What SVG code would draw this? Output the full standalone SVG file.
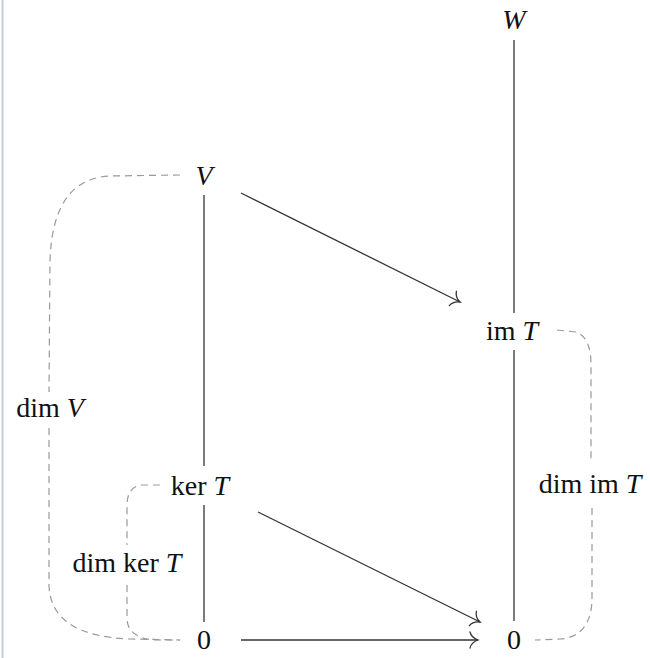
<svg xmlns="http://www.w3.org/2000/svg" width="650" height="658" viewBox="0 0 650 658">
<style>
.t{font-family:'Liberation Serif','Times New Roman',serif;font-size:28px;fill:#111;text-anchor:middle}
.i{font-style:italic}
.ln{stroke:#333;stroke-width:1.3;fill:none}
.ds{stroke:#999;stroke-width:1.2;fill:none;stroke-dasharray:7 5}
</style>
<defs>
<marker id="to" markerUnits="userSpaceOnUse" markerWidth="20" markerHeight="20" viewBox="-12 -10 14 20" refX="0" refY="0" orient="auto">
<path d="M -8 -8 C -7 -4 -3 -1 0 0 C -3 1 -7 4 -8 8" fill="none" stroke="#333" stroke-width="1.3" stroke-linecap="round"/>
</marker>
</defs>
<rect x="0" y="0" width="650" height="658" fill="#fff"/>
<line x1="2.5" y1="0" x2="2.5" y2="658" stroke="#c5cdd8" stroke-width="2"/>
<g id="connectors">
<line class="ln" x1="514" y1="40" x2="514" y2="313"/>
<line class="ln" x1="514" y1="350" x2="514" y2="621"/>
<line class="ln" x1="204" y1="195" x2="204" y2="466"/>
<line class="ln" x1="204" y1="505" x2="204" y2="622"/>
<line class="ln" x1="241" y1="193" x2="460" y2="302" marker-end="url(#to)"/>
<line class="ln" x1="258" y1="512" x2="480" y2="622" marker-end="url(#to)"/>
<line class="ln" x1="241" y1="640" x2="478" y2="640" marker-end="url(#to)"/>
<path class="ds" d="M 180 175 L 110 176 C 72 178 52 205 50 260 L 49 392"/>
<path class="ds" d="M 49 428 L 49 585 C 50 620 78 637 130 639 L 180 640"/>
<path class="ds" d="M 160 485 L 142 485 C 131 486 127 494 127 506 L 127 545"/>
<path class="ds" d="M 127 585 L 127 618 C 127 632 138 639 155 640 L 180 640"/>
<path class="ds" d="M 557 330 L 576 332 C 587 336 591 348 591 365 L 591 462"/>
<path class="ds" d="M 592 508 L 592 598 C 592 624 580 638 560 639 L 535 640"/>
</g>
<g id="W"><text class="t i" x="514" y="29">W</text></g>
<g id="V"><text class="t i" x="204" y="185">V</text></g>
<g id="imT"><text class="t" x="512" y="340">im <tspan class="i">T</tspan></text></g>
<g id="kerT"><text class="t" x="200" y="495">ker <tspan class="i">T</tspan></text></g>
<g id="zeroL"><text class="t" x="204" y="649">0</text></g>
<g id="zeroR"><text class="t" x="514" y="649">0</text></g>
<g id="labels">
<text class="t" x="50" y="417">dim <tspan class="i">V</tspan></text>
<text class="t" x="127" y="572">dim ker <tspan class="i">T</tspan></text>
<text class="t" x="590" y="493">dim im <tspan class="i">T</tspan></text>
</g>
</svg>
